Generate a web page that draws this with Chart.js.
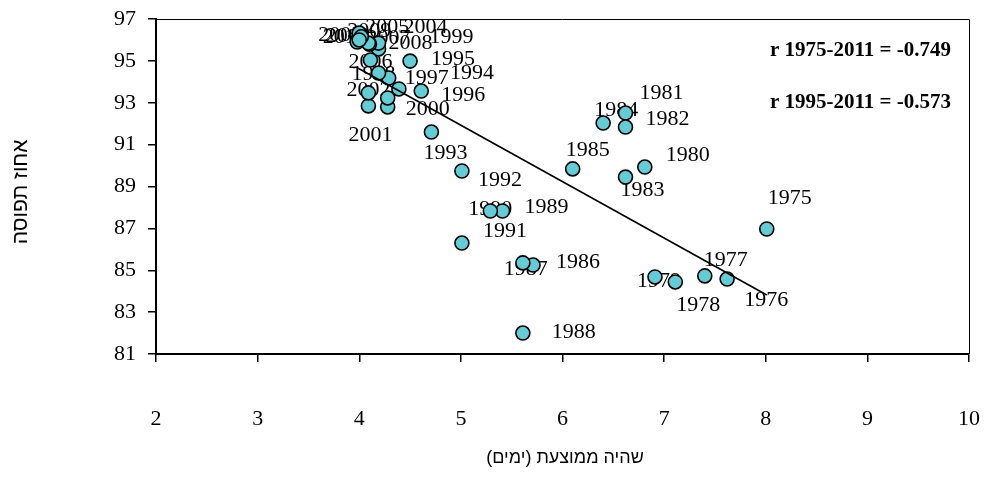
<!DOCTYPE html>
<html><head><meta charset="utf-8">
<script src="https://cdn.jsdelivr.net/npm/chart.js@4"></script>
<style>html,body{margin:0;padding:0;background:#fff}#wrap{width:987px;height:503px;position:relative}</style>
</head><body><div id="wrap"><canvas id="c" width="987" height="503"></canvas></div>
<script>
// ---- data ----
const years = [1975,1976,1977,1978,1979,1980,1981,1982,1983,1984,1985,1986,1987,1988,1989,1990,1991,1992,1993,
  1994,1995,1996,1997,1998,1999,2000,2001,2002,2003,2004,2005,2006,2007,2008,2009,2010,2011];
const avgStay = [8.01,7.62,7.40,7.11,6.91,6.81,6.62,6.62,6.62,6.40,6.10,5.71,5.61,5.61,5.41,5.29,5.01,5.01,4.71,
  4.39,4.50,4.61,4.29,4.19,4.19,4.28,4.09,4.09,3.98,4.19,4.00,4.11,4.10,4.09,4.02,4.28,4.00];
const occupancy = [86.97,84.58,84.73,84.44,84.68,89.93,92.51,91.84,89.45,92.03,89.84,85.25,85.35,82.00,87.83,87.83,86.30,89.74,91.60,
  93.66,94.99,93.56,94.18,94.42,95.57,92.80,92.85,93.47,95.90,95.85,96.33,95.04,95.80,95.85,96.15,93.23,96.00];
const trendStay = [3.99, 8.01];
const trendOccupancy = [94.65, 83.82];
const xTicks = [2,3,4,5,6,7,8,9,10];
const yTicks = [81,83,85,87,89,91,93,95,97];
const corrTexts = ['r 1975-2011 = -0.749', 'r 1995-2011 = -0.573'];
const xTitle = 'שהיה ממוצעת (ימים)';
const yTitle = 'אחוז תפוסה';

// ---- label placement (pixels relative to point) ----
const labelOffsets = [[23,-31],[39,21],[21,-16],[23,23],[4,4],[43,-12],[36,-20],[42,-8],[17,13],[13,-13],[15,-19],[45,-3],[3,6],[51,-1],[44,-4],[0,-2],[43,-12],[38,9],[14,21],
  [73,-16],[43,-2],[42,4],[38,0],[-5,1],[73,-12],[40,2],[2,29],[0,-3],[-17,-7],[47,-16],[28,-6],[0,2],[19,-6],[42,0],[8,-6],[-40,-62],[-15,-3]];

const points = years.map((y,i)=>({x:avgStay[i], y:occupancy[i]}));
const trend = trendStay.map((x,i)=>({x:x, y:trendOccupancy[i]}));

const serif = '"Liberation Serif","Times New Roman",serif';

const extras = {
  id:'extras',
  beforeDatasetsDraw(chart){
    const ctx = chart.ctx, xs = chart.scales.x, ys = chart.scales.y;
    ctx.save();
    ctx.font = '22px ' + serif;
    ctx.fillStyle = '#000';
    ctx.textAlign = 'center';
    ctx.textBaseline = 'middle';
    years.forEach((yr,i)=>{
      const px = xs.getPixelForValue(avgStay[i]) + labelOffsets[i][0];
      const py = ys.getPixelForValue(occupancy[i]) + labelOffsets[i][1];
      ctx.fillText(String(yr), px, py);
    });
    ctx.restore();
  },
  afterDraw(chart){
    const ctx = chart.ctx, a = chart.chartArea;
    ctx.save();
    ctx.strokeStyle = '#000';
    ctx.lineWidth = 1;
    ctx.beginPath();
    ctx.moveTo(a.left, a.top+0.5); ctx.lineTo(a.right+0.5, a.top+0.5); ctx.lineTo(a.right+0.5, a.bottom);
    ctx.stroke();
    ctx.font = 'bold 21px ' + serif;
    ctx.fillStyle = '#000';
    ctx.textAlign = 'right';
    ctx.textBaseline = 'middle';
    ctx.fillText(corrTexts[0], 951, 51);
    ctx.fillText(corrTexts[1], 951, 103);
    ctx.font = '18px "Liberation Sans", Arial, sans-serif';
    ctx.textAlign = 'center';
    ctx.fillText(xTitle, 565, 458);
    ctx.font = '21px "Liberation Sans", Arial, sans-serif';
    ctx.translate(21, 192);
    ctx.rotate(-Math.PI/2);
    ctx.fillText(yTitle, 0, 0);
    ctx.restore();
  }
};

new Chart(document.getElementById('c'), {
  type: 'scatter',
  data: {
    datasets: [
      { type:'line', data: trend, borderColor:'#000', borderWidth:1.6, pointRadius:0, fill:false, order:0 },
      { data: points, pointRadius:7, pointHoverRadius:7, backgroundColor:'#66CBD5', borderColor:'#000', borderWidth:1.6, order:1 }
    ]
  },
  options: {
    responsive:false, animation:false, devicePixelRatio:1,
    layout:{ padding:{ left:0, right:18, top:19, bottom:0 } },
    plugins:{ legend:{display:false}, tooltip:{enabled:false} },
    scales:{
      x:{ type:'linear', min:2, max:10,
        afterBuildTicks(s){ s.ticks = xTicks.map(v=>({value:v})); },
        afterFit(s){ s.height = 149; s.paddingLeft = 0; s.paddingRight = 0; },
        ticks:{ font:{family:serif, size:22}, color:'#000', padding:44, maxRotation:0 },
        grid:{ drawOnChartArea:false, drawTicks:true, tickLength:8, color:'#000', lineWidth:1.5 },
        border:{ display:true, color:'#000', width:2 }
      },
      y:{ type:'linear', min:81, max:97,
        afterBuildTicks(s){ s.ticks = yTicks.map(v=>({value:v})); },
        afterFit(s){ s.width = 156; s.paddingTop = 0; s.paddingBottom = 0; },
        ticks:{ font:{family:serif, size:22}, color:'#000', padding:12 },
        grid:{ drawOnChartArea:false, drawTicks:true, tickLength:8, color:'#000', lineWidth:1.5 },
        border:{ display:true, color:'#000', width:2 }
      }
    }
  },
  plugins:[extras]
});
</script></body></html>
